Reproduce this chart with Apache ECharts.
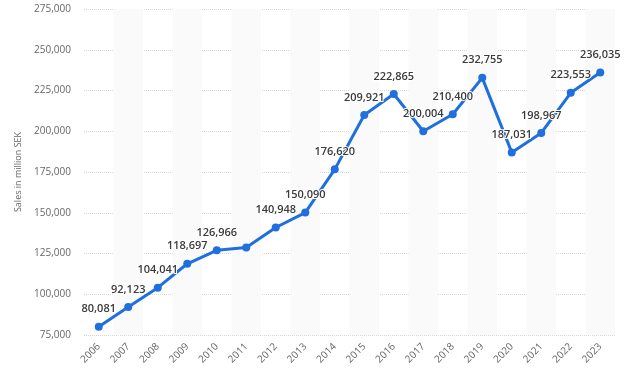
<!DOCTYPE html>
<html>
<head>
<meta charset="utf-8">
<script src="https://cdn.jsdelivr.net/npm/echarts@6/dist/echarts.min.js"></script>
<style>html,body{margin:0;padding:0;background:#fff;}#c{width:624px;height:391px;}</style>
</head>
<body>
<div id="c"></div>
<script>
const years = ['2006','2007','2008','2009','2010','2011','2012','2013','2014','2015','2016','2017','2018','2019','2020','2021','2022','2023'];
const sales = [80081, 92123, 104041, 118697, 126966, 128700, 140948, 150090, 176620, 209921, 222865, 200004, 210400, 232755, 187031, 198967, 223553, 236035];
const showLabel = [true,true,true,true,true,false,true,true,true,true,true,true,true,true,true,true,true,true];
const yTitle = 'Sales in million SEK';

const chart = echarts.init(document.getElementById('c'), null, {renderer:'canvas'});
chart.setOption({
  animation: false,
  grid: {left: 84, right: 9, top: 9, bottom: 56},
  xAxis: {
    type: 'category',
    data: years,
    boundaryGap: true,
    axisLine: {show: false},
    axisTick: {show: false},
    axisLabel: {rotate: 45, color: '#666', fontSize: 10, margin: 10, fontFamily: 'Open Sans'},
    splitLine: {show: false},
    splitArea: {show: true, areaStyle: {color: ['rgba(255,255,255,0)', '#fafafa']}}
  },
  yAxis: {
    type: 'value',
    min: 75000, max: 275000, interval: 25000,
    name: yTitle,
    nameLocation: 'middle',
    nameGap: 60,
    nameTextStyle: {color: '#666', fontSize: 9, fontFamily: 'Open Sans'},
    axisLine: {show: false},
    axisTick: {show: false},
    axisLabel: {color: '#666', fontSize: 10, margin: 13, fontFamily: 'Open Sans',
      formatter: v => v.toLocaleString('en-US')},
    splitLine: {show: true, lineStyle: {color: '#d8d8d8', type: 'dotted', width: 1}}
  },
  series: [{
    type: 'line',
    data: sales.map((v, i) => ({value: v, label: {show: showLabel[i]}})),
    symbol: 'circle',
    symbolSize: 8,
    lineStyle: {color: '#1f6fde', width: 3},
    itemStyle: {color: '#1f6fde'},
    label: {
      show: true, position: 'top', distance: 8,
      color: '#3a3a3a', fontSize: 11, fontWeight: 600, fontFamily: 'Open Sans',
      textBorderColor: '#fff', textBorderWidth: 2,
      formatter: p => p.value.toLocaleString('en-US')
    }
  }]
});
</script>
</body>
</html>
